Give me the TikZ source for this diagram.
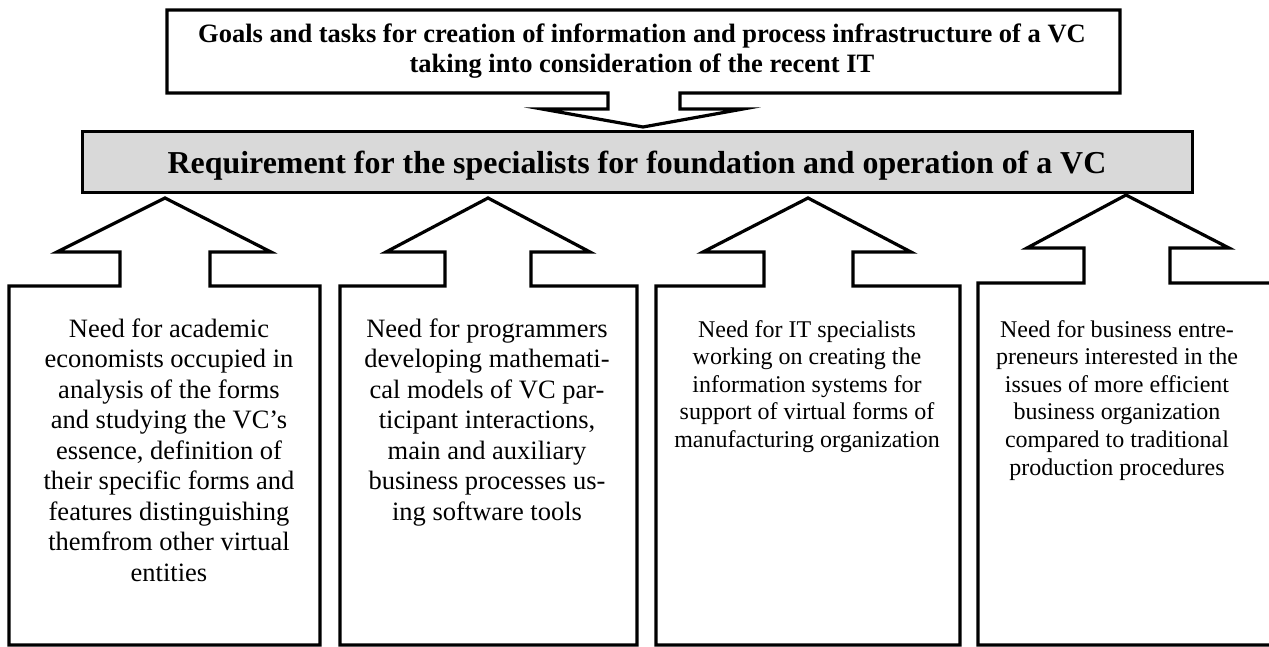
\documentclass[tikz,border=0pt]{standalone}
\usepackage{fontspec}
\setmainfont{Liberation Serif}
\definecolor{reqgray}{RGB}{217,217,217}
\begin{document}
\begin{tikzpicture}[x=1pt,y=-1pt,
  line width=3pt,miter limit=25,
  outline/.style={draw,line width=3.2pt},
  goal text/.style={align=center,inner sep=0pt,font=\fontsize{26.5}{30}\selectfont\bfseries},
  req box/.style={draw,fill=reqgray,minimum width=1110pt,minimum height=61pt,text depth=0pt,
    font=\fontsize{31.9}{36}\selectfont\bfseries},
  need text/.style={anchor=north,align=center,inner sep=0pt,font=\fontsize{26.5}{30.5}\selectfont},
  small text/.style={need text,font=\fontsize{24}{27.6}\selectfont}]

  \useasboundingbox (0,0) rectangle (1269,647);
  \clip (0,0) rectangle (1269,647);

  % goals box with its arrow down
  \draw[outline] (167,10) -- (1120,10) -- (1120,93) -- (680,93) -- (680,109) -- (743,109)
    -- (643,127) -- (542,109) -- (608,109) -- (608,93) -- (167,93) -- cycle;
  \node[goal text] (goals) at (642,51.5)
    {Goals and tasks for creation of information and process infrastructure of a VC\\
     taking into consideration of the recent IT};

  \node[req box] (req) at (637,162.5)
    {Requirement for the specialists for foundation and operation of a VC};

  % the four boxes, each with its arrow up
  \draw[outline] (9,286) -- (120,286) -- (120,252) -- (57,252) -- (165,198) -- (271,252)
    -- (210,252) -- (210,286) -- (320,286) -- (320,645) -- (9,645) -- cycle;
  \draw[outline] (340,286) -- (445,286) -- (445,252) -- (386,252) -- (488,198) -- (590,252)
    -- (531,252) -- (531,286) -- (637,286) -- (637,645) -- (340,645) -- cycle;
  \draw[outline] (656,286) -- (764,286) -- (764,252) -- (703,252) -- (808,198) -- (911,252)
    -- (853,252) -- (853,286) -- (960,286) -- (960,645) -- (656,645) -- cycle;
  \draw[outline] (978,283) -- (1084,283) -- (1084,248) -- (1027,248) -- (1126,195) -- (1229,248)
    -- (1170,248) -- (1170,283) -- (1290,283) -- (1290,645) -- (978,645) -- cycle;

  \node[need text] (econ) at (169,317)
    {Need for academic\\ economists occupied in\\ analysis of the forms\\
     and studying the VC’s\\ essence, definition of\\ their specific forms and\\
     features distinguishing\\ themfrom other virtual\\ entities};
  \node[need text] (prog) at (487,317)
    {Need for programmers\\ developing mathemati-\\ cal models of VC par-\\
     ticipant interactions,\\ main and auxiliary\\ business processes us-\\
     ing software tools};
  \node[small text] (itspec) at (807,318.6)
    {Need for IT specialists\\ working on creating the\\ information systems for\\
     support of virtual forms of\\ manufacturing organization};
  \node[small text] (entre) at (1117,318.6)
    {Need for business entre-\\ preneurs interested in the\\ issues of more efficient\\
     business organization\\ compared to traditional\\ production procedures};
\end{tikzpicture}
\end{document}
